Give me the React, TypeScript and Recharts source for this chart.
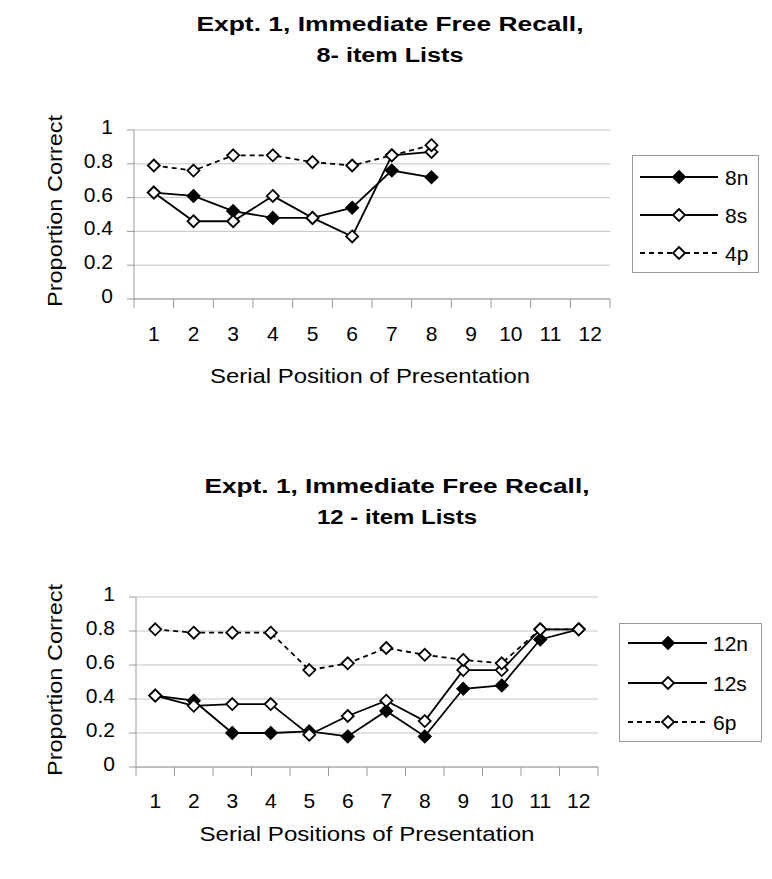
import React from "react";
import { LineChart, Line, XAxis, YAxis, CartesianGrid, Legend } from "recharts";

// values
const positions8 = [1, 2, 3, 4, 5, 6, 7, 8];
const n8 = [0.63, 0.61, 0.52, 0.48, 0.48, 0.54, 0.76, 0.72];
const s8 = [0.63, 0.46, 0.46, 0.61, 0.48, 0.37, 0.85, 0.87];
const p4 = [0.79, 0.76, 0.85, 0.85, 0.81, 0.79, 0.85, 0.91];

const positions12 = [1, 2, 3, 4, 5, 6, 7, 8, 9, 10, 11, 12];
const n12 = [0.42, 0.39, 0.2, 0.2, 0.21, 0.18, 0.33, 0.18, 0.46, 0.48, 0.75, 0.81];
const s12 = [0.42, 0.36, 0.37, 0.37, 0.19, 0.3, 0.39, 0.27, 0.57, 0.57, 0.81, 0.81];
const p6 = [0.81, 0.79, 0.79, 0.79, 0.57, 0.61, 0.7, 0.66, 0.63, 0.61, 0.81, 0.81];

const xLabels = positions12;
const yTicks = [0, 0.2, 0.4, 0.6, 0.8, 1];

const FONT = "'Liberation Sans', Arial, sans-serif";
const AXIS = "#9a9a9a";
const GRID = "#c4c4c4";
const DASH = "5 4";

const data8 = positions8.map((pos, i) => ({ pos, n: n8[i], s: s8[i], p: p4[i] }));
const data12 = positions12.map((pos, i) => ({ pos, n: n12[i], s: s12[i], p: p6[i] }));

// ticks at category centres (labels) and between them (tick marks)
const xTicks = [...xLabels.flatMap((v) => [v - 0.5, v]), xLabels[xLabels.length - 1] + 0.5];

function Diamond({ cx, cy, filled, r = 6 }: { cx: number; cy: number; filled: boolean; r?: number }) {
  return (
    <path
      d={`M${cx},${cy - r} L${cx + r},${cy} L${cx},${cy + r} L${cx - r},${cy} Z`}
      fill={filled ? "#000" : "#fff"}
      stroke="#000"
      strokeWidth={1.8}
    />
  );
}

const dotFor = (filled: boolean) => (props: any) => {
  if (props.cx == null || props.cy == null) return <g key={props.index} />;
  return <Diamond key={props.index} cx={props.cx} cy={props.cy} filled={filled} />;
};

const XTick = (dy: number) => (props: any) => {
  const { x, y, payload } = props;
  const v = payload.value;
  if (!Number.isInteger(v)) {
    return <line x1={x} x2={x} y1={y} y2={y + 9} stroke={AXIS} strokeWidth={1} />;
  }
  return (
    <text x={x} y={y + dy} textAnchor="middle" fontSize={21} fontFamily={FONT} fill="#000">
      {v}
    </text>
  );
};

const YTick = (props: any) => {
  const { x, y, payload } = props;
  const v = payload.value;
  const label = v === 0 || v === 1 ? String(v) : v.toFixed(1);
  return (
    <text x={x} y={y + 4} textAnchor="end" fontSize={21} fontFamily={FONT} fill="#000">
      {label}
    </text>
  );
};

type Item = { name: string; filled: boolean; dashed: boolean };

function LegendBox({ items, w, h, rows, lineX, markX, textX }: {
  items: Item[]; w: number; h: number; rows: number[]; lineX: [number, number]; markX: number; textX: number;
}) {
  return (
    <svg width={w} height={h} style={{ display: "block" }}>
      <rect x={0.5} y={0.5} width={w - 1} height={h - 1} fill="#fff" stroke={AXIS} />
      {items.map((it, i) => (
        <g key={it.name}>
          <line
            x1={lineX[0]} x2={lineX[1]} y1={rows[i]} y2={rows[i]}
            stroke="#000" strokeWidth={1.8}
            strokeDasharray={it.dashed ? DASH : undefined}
          />
          <Diamond cx={markX} cy={rows[i]} filled={it.filled} />
          <text x={textX} y={rows[i] + 7.5} fontSize={21} fontFamily={FONT} fill="#000">{it.name}</text>
        </g>
      ))}
    </svg>
  );
}

type PanelProps = {
  top: number;
  height: number;
  data: any[];
  names: [string, string, string];
  margin: { top: number; right: number; bottom: number; left: number };
  title: [string, string];
  titleLayout: { cx: number; y1: number; y2: number; len1: number; len2: number };
  xTitle: string;
  xTitleLayout: { cx: number; dy: number; len: number };
  tickDy: number;
  yTitleLayout: { x: number; cy: number; len: number };
  legend: { left: number; top: number; w: number; h: number; rows: number[]; lineX: [number, number]; markX: number; textX: number };
};

function Panel(p: PanelProps) {
  const items: Item[] = [
    { name: p.names[0], filled: true, dashed: false },
    { name: p.names[1], filled: false, dashed: false },
    { name: p.names[2], filled: false, dashed: true },
  ];
  return (
    <div style={{ position: "absolute", left: 0, top: p.top, width: 772, height: p.height }}>
      <LineChart width={772} height={p.height} data={p.data} margin={p.margin}>
        <CartesianGrid vertical={false} stroke={GRID} strokeWidth={1} />
        <XAxis
          dataKey="pos"
          type="number"
          domain={[0.5, 12.5]}
          ticks={xTicks}
          interval={0}
          height={90}
          tickLine={false}
          tickSize={0}
          tickMargin={0}
          axisLine={{ stroke: AXIS }}
          tick={XTick(p.tickDy)}
          label={{
            content: (lp: any) => {
              const vb = lp.viewBox || { y: 0 };
              return (
                <text
                  x={p.xTitleLayout.cx}
                  y={vb.y + p.xTitleLayout.dy}
                  textAnchor="middle"
                  fontSize={21}
                  fontFamily={FONT}
                  textLength={p.xTitleLayout.len}
                  lengthAdjust="spacingAndGlyphs"
                  fill="#000"
                >
                  {p.xTitle}
                </text>
              );
            },
          }}
        />
        <YAxis
          type="number"
          domain={[0, 1]}
          ticks={yTicks}
          interval={0}
          width={134}
          tickSize={7}
          tickMargin={14}
          tickLine={{ stroke: AXIS }}
          axisLine={{ stroke: AXIS }}
          tick={YTick}
          label={{
            content: () => (
              <text
                x={p.yTitleLayout.x}
                y={p.yTitleLayout.cy}
                transform={`rotate(-90, ${p.yTitleLayout.x}, ${p.yTitleLayout.cy})`}
                textAnchor="middle"
                fontSize={21}
                fontFamily={FONT}
                textLength={p.yTitleLayout.len}
                lengthAdjust="spacingAndGlyphs"
                fill="#000"
              >
                Proportion Correct
              </text>
            ),
          }}
        />
        <Legend
          layout="horizontal"
          verticalAlign="middle"
          align="center"
          wrapperStyle={{ left: p.legend.left, top: p.legend.top, width: p.legend.w, height: p.legend.h }}
          content={() => (
            <LegendBox
              items={items}
              w={p.legend.w}
              h={p.legend.h}
              rows={p.legend.rows}
              lineX={p.legend.lineX}
              markX={p.legend.markX}
              textX={p.legend.textX}
            />
          )}
        />
        <Line dataKey="n" name={p.names[0]} type="linear" stroke="#000" strokeWidth={1.8}
          dot={dotFor(true)} activeDot={false} isAnimationActive={false} />
        <Line dataKey="s" name={p.names[1]} type="linear" stroke="#000" strokeWidth={1.8}
          dot={dotFor(false)} activeDot={false} isAnimationActive={false} />
        <Line dataKey="p" name={p.names[2]} type="linear" stroke="#000" strokeWidth={1.8}
          strokeDasharray={DASH} dot={dotFor(false)} activeDot={false} isAnimationActive={false} />
      </LineChart>
      <svg width={772} height={100} style={{ position: "absolute", left: 0, top: 0, pointerEvents: "none" }}>
        <text x={p.titleLayout.cx} y={p.titleLayout.y1} textAnchor="middle" fontSize={20} fontWeight="bold"
          fontFamily={FONT} textLength={p.titleLayout.len1} lengthAdjust="spacingAndGlyphs">
          {p.title[0]}
        </text>
        <text x={p.titleLayout.cx} y={p.titleLayout.y2} textAnchor="middle" fontSize={20} fontWeight="bold"
          fontFamily={FONT} textLength={p.titleLayout.len2} lengthAdjust="spacingAndGlyphs">
          {p.title[1]}
        </text>
      </svg>
    </div>
  );
}

export default function App() {
  return (
    <div style={{ position: "absolute", left: 0, top: 0, width: 772, height: 879, background: "#fff" }}>
      <Panel
        top={0}
        height={440}
        data={data8}
        names={["8n", "8s", "4p"]}
        margin={{ top: 130, right: 162, bottom: 51, left: 0 }}
        title={["Expt. 1, Immediate Free Recall,", "8- item Lists"]}
        titleLayout={{ cx: 390, y1: 31, y2: 62, len1: 387, len2: 147 }}
        xTitle="Serial Position of Presentation"
        xTitleLayout={{ cx: 370, dy: 84, len: 320 }}
        tickDy={42}
        yTitleLayout={{ x: 62, cy: 211, len: 192 }}
        legend={{ left: 632, top: 155, w: 127, h: 118, rows: [22, 60, 98], lineX: [8, 86], markX: 47, textX: 93 }}
      />
      <Panel
        top={440}
        height={439}
        data={data12}
        names={["12n", "12s", "6p"]}
        margin={{ top: 157, right: 174, bottom: 22, left: 2 }}
        title={["Expt. 1, Immediate Free Recall,", "12 - item Lists"]}
        titleLayout={{ cx: 397, y1: 53, y2: 84, len1: 385, len2: 160 }}
        xTitle="Serial Positions of Presentation"
        xTitleLayout={{ cx: 367, dy: 74, len: 335 }}
        tickDy={41}
        yTitleLayout={{ x: 62, cy: 240, len: 192 }}
        legend={{ left: 619, top: 183, w: 143, h: 119, rows: [20, 60, 99], lineX: [9, 88], markX: 49, textX: 94 }}
      />
    </div>
  );
}
